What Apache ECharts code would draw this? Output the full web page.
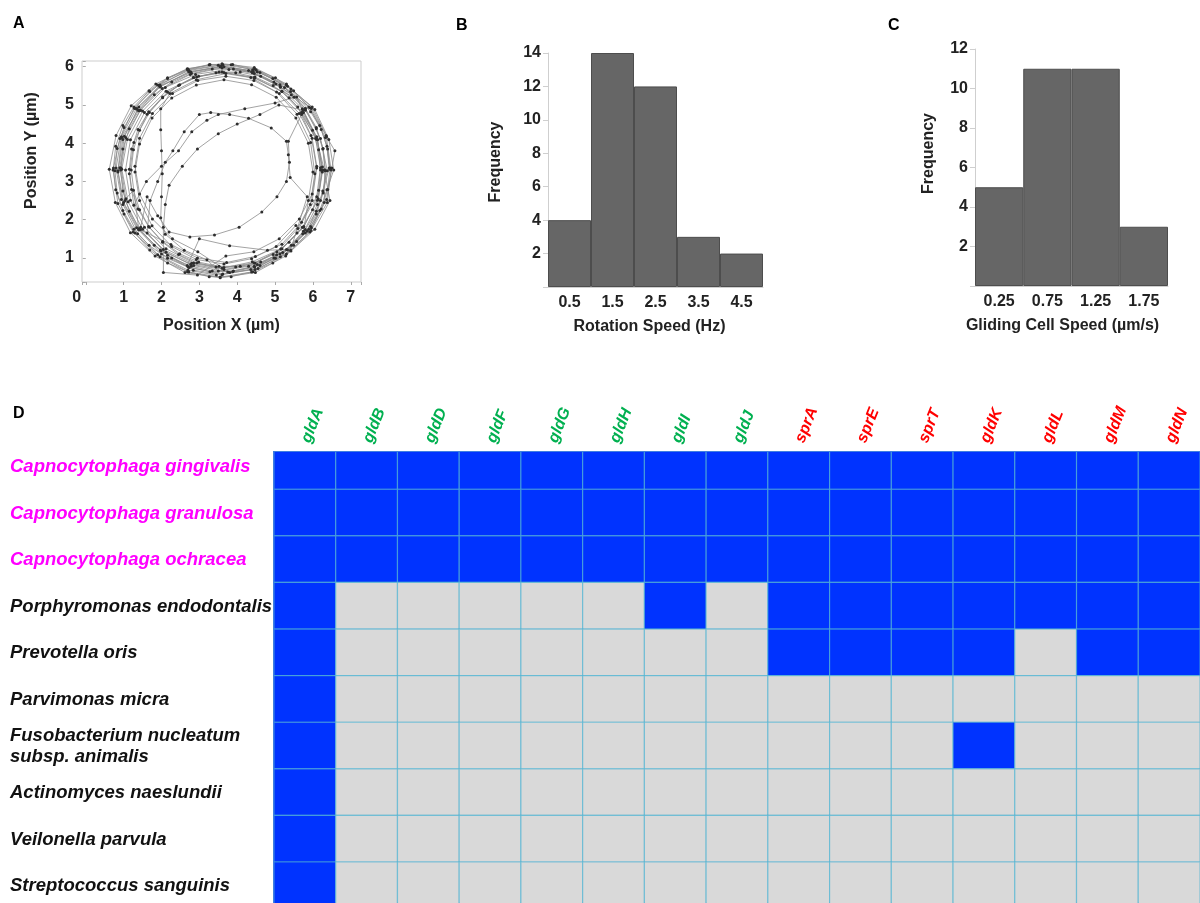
<!DOCTYPE html>
<html>
<head>
<meta charset="utf-8">
<script src="https://cdn.jsdelivr.net/npm/echarts@6/dist/echarts.min.js"></script>
<style>html,body{margin:0;padding:0;background:#fff}#c{width:1200px;height:903px}</style>
</head>
<body>
<div id="c"></div>
<script>
// ---------- Panel A: trajectory (x, y in µm) ----------
const loop1 = [[6.45,3.35],[6.33,4.15],[5.92,4.93],[5.3,5.55],[4.45,5.98],[3.6,6.08],[2.68,5.95],[1.85,5.55],[1.2,4.98],[0.8,4.2],[0.62,3.32],[0.78,2.45],[1.18,1.66],[1.83,1.05],[2.62,0.62],[3.55,0.48],[4.48,0.62],[5.28,1.05],[5.92,1.68],[6.3,2.45]];
const loopA = [[6.32,3.3],[6.26,3.85],[6.09,4.38],[5.8,4.86],[5.43,5.27],[4.97,5.6],[4.45,5.82],[3.9,5.94],[3.34,5.94],[2.79,5.82],[2.27,5.6],[1.81,5.27],[1.44,4.86],[1.15,4.38],[0.98,3.85],[0.92,3.3],[0.98,2.75],[1.15,2.22],[1.44,1.74],[1.81,1.33],[2.27,1.0],[2.79,0.78],[3.34,0.66],[3.9,0.66],[4.45,0.78],[4.97,1.0],[5.43,1.33],[5.8,1.74],[6.09,2.22],[6.26,2.75]];
const loop2 = [[6.38,3.28],[6.2,4.12],[5.8,4.9],[5.25,5.46],[4.42,5.88],[3.58,6.02],[2.78,5.85],[1.95,5.5],[1.4,4.85],[0.95,4.15],[0.85,3.28],[1.0,2.45],[1.4,1.73],[2.0,1.1],[2.73,0.75],[3.62,0.58],[4.47,0.7],[5.2,1.14],[5.85,1.7],[6.2,2.5]];
const loopB = [[6.43,3.35],[6.37,3.92],[6.18,4.46],[5.89,4.95],[5.49,5.37],[5.01,5.71],[4.46,5.94],[3.88,6.06],[3.28,6.06],[2.7,5.94],[2.16,5.71],[1.67,5.37],[1.27,4.95],[0.98,4.46],[0.79,3.92],[0.73,3.35],[0.79,2.78],[0.98,2.24],[1.27,1.75],[1.67,1.33],[2.16,0.99],[2.7,0.76],[3.28,0.64],[3.88,0.64],[4.46,0.76],[5.01,0.99],[5.49,1.33],[5.89,1.75],[6.18,2.24],[6.37,2.78]];
const loop3 = [[6.55,3.3],[6.42,4.1],[6.05,4.88],[5.42,5.42],[4.6,5.85],[3.78,5.93],[2.9,5.8],[2.1,5.46],[1.5,4.84],[1.1,4.1],[0.95,3.32],[1.12,2.47],[1.5,1.75],[2.12,1.15],[2.85,0.8],[3.75,0.63],[4.6,0.8],[5.42,1.18],[6.05,1.75],[6.45,2.5]];
const chord1 = [[6.3,3.3],[6.1,4.1],[5.7,4.75],[5.35,4.05],[5.38,3.5],[5.3,3.0],[5.05,2.6],[4.65,2.2],[4.05,1.8],[3.4,1.6],[2.75,1.55],[2.2,1.68],[1.9,2.1],[1.62,2.6]];
const loop4 = [[1.45,1.8],[2.05,1.22],[2.8,0.86],[3.6,0.73],[4.4,0.9],[5.15,1.23],[5.76,1.82],[6.14,2.55],[6.25,3.38],[6.1,4.17],[5.72,4.9],[5.14,5.47],[4.4,5.84],[3.6,5.97],[2.76,5.8],[2.02,5.43],[1.44,4.86],[1.06,4.14],[0.93,3.35],[1.06,2.55]];
const loopC = [[1.26,2.77],[1.42,2.26],[1.68,1.8],[2.03,1.41],[2.45,1.09],[2.93,0.87],[3.44,0.76],[3.96,0.76],[4.47,0.87],[4.95,1.09],[5.37,1.41],[5.72,1.8],[5.99,2.26],[6.15,2.77],[6.2,3.3],[6.15,3.83],[5.99,4.34],[5.72,4.8],[5.37,5.19],[4.95,5.51],[4.47,5.73],[3.96,5.84],[3.44,5.84],[2.93,5.73],[2.45,5.51],[2.03,5.19],[1.68,4.8],[1.42,4.34],[1.26,3.83],[1.2,3.3]];
const loop5 = [[1.4,1.75],[2.25,1.35],[2.95,1.0],[3.72,0.88],[4.48,1.04],[5.18,1.36],[5.7,1.93],[6.1,2.6],[6.2,3.36],[6.07,4.12],[5.7,4.8],[5.18,5.35],[4.46,5.7],[3.7,5.82],[2.92,5.66],[2.22,5.3]];
const chord2 = [[1.98,4.9],[1.98,4.35],[2.0,3.8],[2.02,3.2],[2.0,2.6],[1.98,2.05],[2.1,1.62],[2.6,1.2],[3.2,0.95]];
const loop6 = [[3.5,0.66],[4.3,0.78],[5.05,1.16],[5.6,1.77],[5.98,2.5],[6.1,3.35],[5.95,4.2],[5.6,4.95],[5.02,5.55],[4.3,5.9],[3.5,6.04],[2.7,5.92],[1.96,5.52],[1.4,4.95],[1.02,4.18],[0.9,3.36],[1.04,2.5],[1.4,1.76],[1.98,1.18],[2.68,0.8]];
const chord3 = [[3.0,1.5],[3.8,1.32],[4.8,1.2],[5.3,1.22],[5.75,1.7]];
const loop7 = [[5.88,2.5],[6.0,3.25],[5.88,4.0],[5.55,4.66],[5.03,5.2],[4.38,5.53],[3.65,5.66],[2.92,5.52],[2.27,5.18],[1.75,4.66],[1.42,3.98],[1.3,3.25],[1.42,2.5],[1.75,1.84],[2.27,1.3],[2.92,0.96],[3.65,0.84],[4.38,0.98],[5.03,1.3],[5.55,1.85]];
const loopD = [[5.8,1.65],[6.09,2.15],[6.27,2.7],[6.33,3.28],[6.27,3.86],[6.09,4.41],[5.8,4.91],[5.41,5.35],[4.94,5.69],[4.41,5.92],[3.84,6.05],[3.26,6.05],[2.69,5.92],[2.16,5.69],[1.69,5.35],[1.3,4.91],[1.01,4.41],[0.83,3.86],[0.77,3.28],[0.83,2.7],[1.01,2.15],[1.3,1.65],[1.69,1.21],[2.16,0.87],[2.69,0.64],[3.26,0.51],[3.84,0.51],[4.41,0.64],[4.94,0.87],[5.41,1.21]];
const chord4 = [[5.85,2.6],[5.4,3.1],[5.35,3.7],[5.3,4.05],[4.9,4.4],[4.3,4.65],[3.8,4.75],[3.3,4.8],[3.0,4.75],[2.6,4.3],[2.3,3.8],[2.1,3.5],[1.9,3.0],[1.7,2.5]];
const loop8 = [[1.62,1.65],[2.16,1.07],[2.84,0.68],[3.6,0.56],[4.36,0.7],[5.04,1.08],[5.58,1.65],[5.93,2.4],[6.05,3.2],[5.94,4.02],[5.58,4.76],[5.04,5.34],[4.36,5.72],[3.6,5.86],[2.84,5.72],[2.16,5.34],[1.62,4.76],[1.27,4.02],[1.15,3.2],[1.27,2.38]];
const chord5 = [[1.6,3.0],[2.0,3.4],[2.45,3.8],[2.8,4.3],[3.2,4.6],[3.5,4.75],[4.2,4.9],[5.0,5.05],[5.5,5.2]];
const loop9 = [[5.18,5.36],[4.45,5.72],[3.65,5.85],[2.85,5.72],[2.12,5.36],[1.55,4.8],[1.18,4.09],[1.05,3.3],[1.18,2.51],[1.55,1.8],[2.12,1.24],[2.85,0.87],[3.65,0.75],[4.45,0.87],[5.18,1.24],[5.75,1.8],[6.12,2.51],[6.25,3.3],[6.12,4.09],[5.75,4.8]];
const loopE = [[5.57,5.21],[5.13,5.53],[4.62,5.75],[4.08,5.86],[3.52,5.86],[2.98,5.75],[2.48,5.53],[2.03,5.21],[1.66,4.82],[1.38,4.36],[1.21,3.85],[1.15,3.32],[1.21,2.79],[1.38,2.28],[1.66,1.82],[2.03,1.43],[2.48,1.11],[2.98,0.89],[3.52,0.78],[4.08,0.78],[4.62,0.89],[5.13,1.11],[5.57,1.43],[5.94,1.82],[6.22,2.28],[6.39,2.79],[6.45,3.32],[6.39,3.85],[6.22,4.36],[5.94,4.82]];
const loop10 = [[5.33,5.49],[4.53,5.87],[3.65,6.0],[2.77,5.87],[1.97,5.49],[1.34,4.91],[0.94,4.17],[0.8,3.35],[0.94,2.53],[1.34,1.79],[1.97,1.21],[2.77,0.83],[3.65,0.7],[4.53,0.83],[5.33,1.21],[5.96,1.79],[6.36,2.53],[6.5,3.35],[6.58,3.8],[6.36,4.17],[5.96,4.91]];
const loop11 = [[5.14,5.47],[4.38,5.87],[3.55,6.0],[2.72,5.87],[1.96,5.47],[1.37,4.87],[0.98,4.1],[0.85,3.25],[0.98,2.4],[1.37,1.63],[1.96,1.03],[2.72,0.63],[3.55,0.5],[4.38,0.63],[5.14,1.03],[5.73,1.63],[6.12,2.4],[6.25,3.25],[6.12,4.1],[5.73,4.87]];
const chord6 = [[5.1,5.0],[4.6,4.75],[4.0,4.5],[3.5,4.25],[2.95,3.85],[2.55,3.4],[2.2,2.9],[2.1,2.4],[2.05,1.8],[2.05,0.62],[2.95,0.55]];
const loop12 = [[3.7,1.05],[4.44,1.16],[5.11,1.5],[5.64,2.02],[5.98,2.67],[6.1,3.4],[5.98,4.13],[5.64,4.78],[5.11,5.3],[4.44,5.64],[3.7,5.75],[2.96,5.64],[2.29,5.3],[1.76,4.78],[1.42,4.13],[1.3,3.4],[1.42,2.67],[1.76,2.02],[2.29,1.5],[2.96,1.16]];
const loop13 = [[3.8,0.62],[4.55,0.72],[5.3,1.1],[5.95,1.72],[6.38,2.45],[6.48,3.3],[6.35,4.2],[5.98,4.95],[5.3,5.52],[4.5,5.92],[3.62,6.05],[2.72,5.9],[1.9,5.52],[1.28,4.92],[0.9,4.12],[0.72,3.3],[0.85,2.42],[1.25,1.68],[1.9,1.08],[2.7,0.68],[3.45,0.55]];
const trajectory = [].concat(loop1, loopA, loop2, loopB, loop3, chord1, loop4, loopC, loop5, chord2, loop6, chord3, loop7, loopD, chord4, loop8, chord5, loop9, loopE, loop10, loop11, chord6, loop12, loop13);

// ---------- Panel B: rotation speed histogram ----------
const rotationBins = ['0.5', '1.5', '2.5', '3.5', '4.5'];
const rotationFreq = [4, 14, 12, 3, 2];

// ---------- Panel C: gliding speed histogram ----------
const glidingBins = ['0.25', '0.75', '1.25', '1.75'];
const glidingFreq = [5, 11, 11, 3];

// ---------- Panel D: gene presence ----------
const genes = ['gldA','gldB','gldD','gldF','gldG','gldH','gldI','gldJ','sprA','sprE','sprT','gldK','gldL','gldM','gldN'];
const geneGroup = ['g','g','g','g','g','g','g','g','r','r','r','r','r','r','r'];
const species = ['Capnocytophaga gingivalis','Capnocytophaga granulosa','Capnocytophaga ochracea','Porphyromonas endodontalis','Prevotella oris','Parvimonas micra','Fusobacterium nucleatum\nsubsp. animalis','Actinomyces naeslundii','Veilonella parvula','Streptococcus sanguinis'];
const speciesGroup = ['cap','cap','cap','o','o','o','o','o','o','o'];
const presence = [
  [1,1,1,1,1,1,1,1,1,1,1,1,1,1,1],
  [1,1,1,1,1,1,1,1,1,1,1,1,1,1,1],
  [1,1,1,1,1,1,1,1,1,1,1,1,1,1,1],
  [1,0,0,0,0,0,1,0,1,1,1,1,1,1,1],
  [1,0,0,0,0,0,0,0,1,1,1,1,0,1,1],
  [1,0,0,0,0,0,0,0,0,0,0,0,0,0,0],
  [1,0,0,0,0,0,0,0,0,0,0,1,0,0,0],
  [1,0,0,0,0,0,0,0,0,0,0,0,0,0,0],
  [1,0,0,0,0,0,0,0,0,0,0,0,0,0,0],
  [1,0,0,0,0,0,0,0,0,0,0,0,0,0,0]
];

const FONT = 'Liberation Sans, Arial, sans-serif';
const lab = {fontFamily: FONT, fontSize: 16, fontWeight: 'bold', color: '#222'};
const nameSt = {fontFamily: FONT, fontSize: 16, fontWeight: 'bold', color: '#222'};
const intOnly = v => {
  if (Math.abs(v - Math.round(v)) > 1e-6) return '';
  return Math.round(v) === 0 ? '{z|0}' : String(Math.round(v));
};
const panelTitle = {fontFamily: FONT, fontSize: 16, fontWeight: 'bold', color: '#000'};

const cells = [];
presence.forEach((row, r) => row.forEach((v, c) => cells.push([c, r, v])));
const geneItems = genes.map((g, i) => [i, 1]);
const speciesItems = species.map((s, i) => [0, i]);

const chart = echarts.init(document.getElementById('c'), null, {renderer: 'canvas'});
chart.setOption({
  animation: false,
  backgroundColor: '#fff',
  title: [
    {text: 'A', left: 8, top: 11, textStyle: panelTitle},
    {text: 'B', left: 451, top: 13, textStyle: panelTitle},
    {text: 'C', left: 883, top: 13, textStyle: panelTitle},
    {text: 'D', left: 8, top: 401, textStyle: panelTitle}
  ],
  grid: [
    {left: 82, top: 61, width: 279, height: 221, show: true, borderColor: '#cdcdcd', borderWidth: 1, backgroundColor: 'transparent'},
    {left: 548, top: 53, width: 215, height: 234},
    {left: 975, top: 49, width: 193, height: 237},
    {left: 274, top: 452, right: 0, bottom: 0, show: true, borderColor: '#3f7fe0', borderWidth: 2, backgroundColor: 'transparent'}
  ],
  xAxis: [
    {gridIndex: 0, type: 'value', min: -0.1, max: 7.27, minInterval: 1, maxInterval: 1,
     axisLine: {show: false}, axisTick: {show: true, length: 3, lineStyle: {color: '#aaa'}}, splitLine: {show: false},
     axisLabel: Object.assign({}, lab, {margin: 8, formatter: intOnly,
       rich: {z: {fontFamily: FONT, fontSize: 16, fontWeight: 'bold', color: '#222', padding: [0, 18, 0, 0]}}}),
     name: 'Position X (µm)', nameLocation: 'middle', nameGap: 36, nameTextStyle: nameSt},
    {gridIndex: 1, type: 'category', data: rotationBins,
     axisLine: {show: true, lineStyle: {color: '#cfcfcf'}}, axisTick: {show: false},
     axisLabel: Object.assign({}, lab, {margin: 8}),
     name: 'Rotation Speed (Hz)', nameLocation: 'middle', nameGap: 32, nameTextStyle: Object.assign({}, nameSt, {padding: [0, 12, 0, 0]})},
    {gridIndex: 2, type: 'category', data: glidingBins,
     axisLine: {show: true, lineStyle: {color: '#cfcfcf'}}, axisTick: {show: false},
     axisLabel: Object.assign({}, lab, {margin: 8}),
     name: 'Gliding Cell Speed (µm/s)', nameLocation: 'middle', nameGap: 32, nameTextStyle: Object.assign({}, nameSt, {padding: [0, 18, 0, 0]})},
    {gridIndex: 3, type: 'category', data: genes, position: 'top', show: false}
  ],
  yAxis: [
    {gridIndex: 0, type: 'value', min: 0.37, max: 6.15, minInterval: 1, maxInterval: 1,
     axisLine: {show: false}, axisTick: {show: true, length: 3, lineStyle: {color: '#aaa'}}, splitLine: {show: false},
     axisLabel: Object.assign({}, lab, {margin: 8, formatter: v => (Math.abs(v - Math.round(v)) < 1e-6 ? String(Math.round(v)) : '')}),
     name: 'Position Y (µm)', nameLocation: 'middle', nameGap: 42, nameTextStyle: Object.assign({}, nameSt, {padding: [0, 0, 0, 42]})},
    {gridIndex: 1, type: 'value', min: 0, max: 14, interval: 2,
     axisLine: {show: true, lineStyle: {color: '#cfcfcf'}}, axisTick: {show: true, length: 5, lineStyle: {color: '#cfcfcf'}}, splitLine: {show: false},
     axisLabel: Object.assign({}, lab, {margin: 7, formatter: v => (v === 0 ? '' : String(v))}),
     name: 'Frequency', nameLocation: 'middle', nameGap: 44, nameTextStyle: Object.assign({}, nameSt, {padding: [0, 0, 0, 16]})},
    {gridIndex: 2, type: 'value', min: 0, max: 12, interval: 2,
     axisLine: {show: true, lineStyle: {color: '#cfcfcf'}}, axisTick: {show: true, length: 5, lineStyle: {color: '#cfcfcf'}}, splitLine: {show: false},
     axisLabel: Object.assign({}, lab, {margin: 7, formatter: v => (v === 0 ? '' : String(v))}),
     name: 'Frequency', nameLocation: 'middle', nameGap: 38, nameTextStyle: Object.assign({}, nameSt, {padding: [0, 0, 0, 28]})},
    {gridIndex: 3, type: 'value', inverse: true, min: 0.2, max: 9.88, show: false}
  ],
  series: [
    {type: 'line', xAxisIndex: 0, yAxisIndex: 0, data: trajectory, showSymbol: true, showAllSymbol: true,
     symbol: 'circle', symbolSize: 3, itemStyle: {color: '#2e2e2e'}, lineStyle: {color: '#8c8c8c', width: 0.8}, z: 3},
    {type: 'bar', xAxisIndex: 1, yAxisIndex: 1, data: rotationFreq, barCategoryGap: '0%',
     itemStyle: {color: '#666666', borderColor: '#4d4d4d', borderWidth: 1}},
    {type: 'bar', xAxisIndex: 2, yAxisIndex: 2, data: glidingFreq, barCategoryGap: '0%',
     itemStyle: {color: '#666666', borderColor: '#4d4d4d', borderWidth: 1}},
    {type: 'custom', xAxisIndex: 3, yAxisIndex: 3, data: cells, clip: true, encode: {x: 0, y: 1},
     renderItem: function (params, api) {
       const c = api.value(0), r = api.value(1), v = api.value(2);
       const p = api.coord([c, r]);
       const s = api.size([1, 1]);
       return {type: 'rect', shape: {x: p[0] - s[0] / 2, y: p[1], width: s[0], height: s[1]},
               style: {fill: v ? '#0033ff' : '#d9d9d9', stroke: 'rgba(80,180,210,0.65)', lineWidth: 1.2}};
     }},
    {type: 'custom', xAxisIndex: 3, yAxisIndex: 3, data: geneItems, clip: false, encode: {x: 0, y: 1}, silent: true,
     renderItem: function (params, api) {
       const i = api.value(0);
       const p = api.coord([i, 1]);
       const top = params.coordSys.y;
       return {type: 'text', x: p[0] + 1, y: top - 10, rotation: 68 * Math.PI / 180,
               style: {text: genes[i], fill: geneGroup[i] === 'g' ? '#00b050' : '#ff0000',
                       font: 'italic bold 16px ' + FONT, align: 'left', verticalAlign: 'middle'}};
     }},
    {type: 'custom', xAxisIndex: 3, yAxisIndex: 3, data: speciesItems, clip: false, encode: {x: 0, y: 1}, silent: true,
     renderItem: function (params, api) {
       const r = api.value(1);
       const p = api.coord([0, r + 0.5]);
       return {type: 'text', x: params.coordSys.x - 264, y: p[1] + 1,
               style: {text: species[r], fill: speciesGroup[r] === 'cap' ? '#ff00ff' : '#111',
                       font: 'italic bold 18.5px ' + FONT, lineHeight: 21, align: 'left', verticalAlign: 'middle'}};
     }}
  ]
});
</script>
</body>
</html>
